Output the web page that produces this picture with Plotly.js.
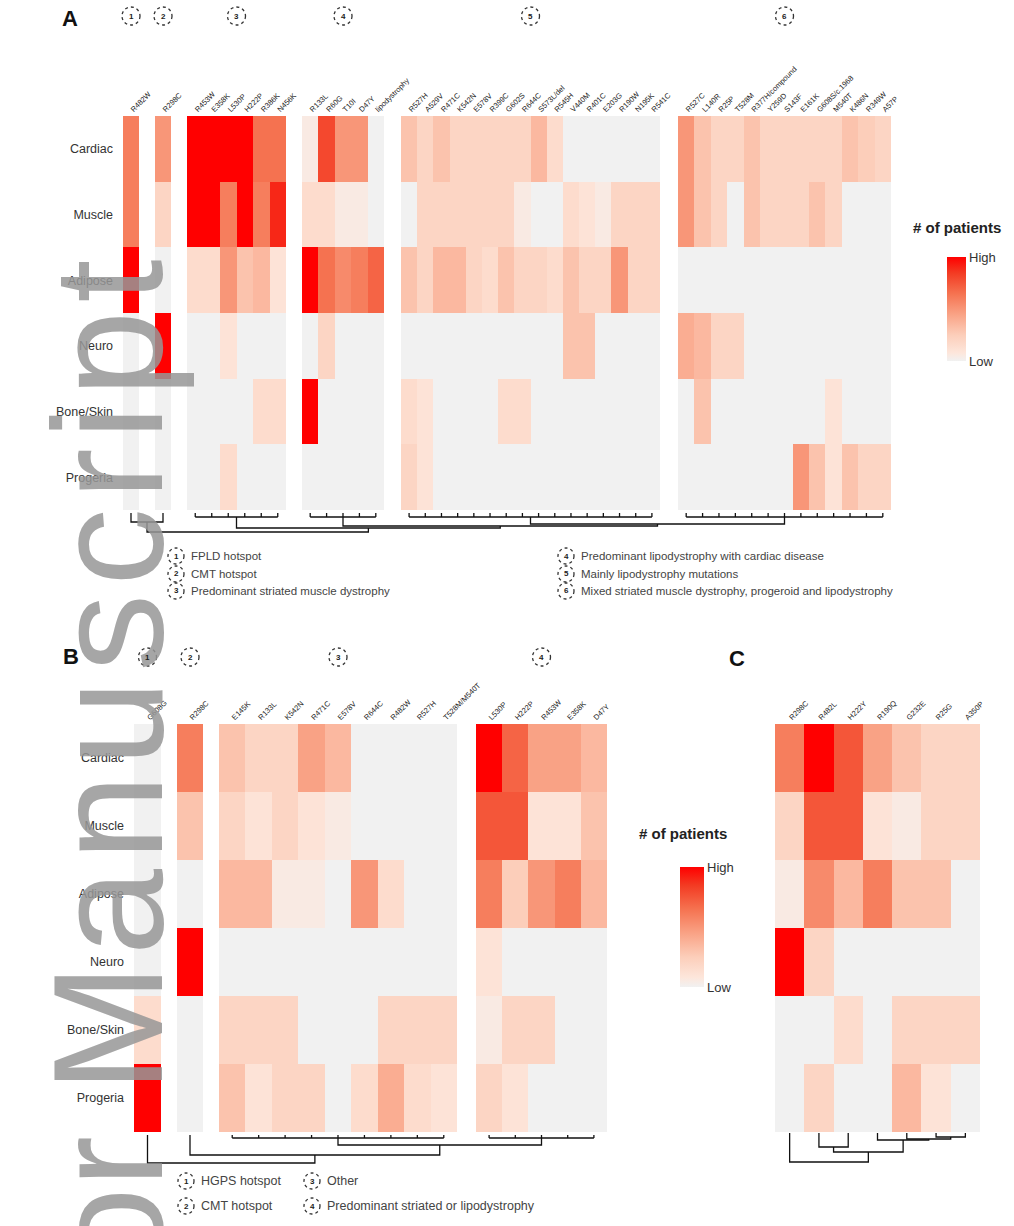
<!DOCTYPE html>
<html><head><meta charset="utf-8">
<script src="https://cdn.plot.ly/plotly-3.0.1.min.js"></script>
<style>html,body{margin:0;padding:0;background:#fff}#chart{width:1014px;height:1226px}</style>
</head><body><div id="chart"></div>
<script>
// ---------------- DATA ----------------
const tissues = ["Cardiac","Muscle","Adipose","Neuro","Bone/Skin","Progeria"];

// Panel A – six mutation clusters (rows follow `tissues`)
const A1_labels = ["R482W"];
const A1_values = [[6],[6],[10],[0],[0],[0]];
const A2_labels = ["R298C"];
const A2_values = [[5],[2],[0],[10],[0],[0]];
const A3_labels = ["R453W","E358K","L530P","H222P","R386K","N456K"];
const A3_values = [
  [10,10,10,10,6.5,6.5],
  [10,10,6,10,6,9],
  [1.5,1.5,5,3,3.5,1],
  [0,0,1,0,0,0],
  [0,0,0,0,1.5,1.5],
  [0,0,1.5,0,0,0]];
const A4_labels = ["R133L","R60G","T10I","D47Y","lipodystrophy"];
const A4_values = [
  [0.5,8,5,5,0],
  [1.5,1.5,0.5,0.5,0],
  [10,6.5,5.5,6,7],
  [0,2,0,0,0],
  [10,0,0,0,0],
  [0,0,0,0,0]];
const A5_labels = ["R527H","A529V","R471C","K542N","E578V","R399C","G602S","R644C","S573L/del","R545H","V440M","R401C","E203G","R190W","N195K","R541C"];
const A5_values = [
  [3,2,3,2,2,2,2,2,3.5,1.5,0,0,0,0,0,0],
  [0,2,2,2,2,2,2,0.5,0,0,1.5,1,0.5,2,2,2],
  [3,2,3.5,3.5,2,1.5,3,2,2,1.5,3,2,2,5,2,2],
  [0,0,0,0,0,0,0,0,0,0,3,3,0,0,0,0],
  [1.5,1,0,0,0,0,1.5,1.5,0,0,0,0,0,0,0,0],
  [2,1,0,0,0,0,0,0,0,0,0,0,0,0,0,0]];
const A6_labels = ["R527C","L140R","R25P","T528M","R377H/compound","Y259D","S143F","E161K","G608S/c.1968","M540T","K486N","R349W","A57P"];
const A6_values = [
  [5,3,2,2,3,2,2,2,2,2,3,2.5,2],
  [5,3,2,0,3,2,2,2,3,2,0,0,0],
  [0,0,0,0,0,0,0,0,0,0,0,0,0],
  [4,3.5,2,2,0,0,0,0,0,0,0,0,0],
  [0,3,0,0,0,0,0,0,0,1,0,0,0],
  [0,0,0,0,0,0,0,5,3,1,3,2,2]];

// Panel B – four clusters
const B1_labels = ["G608G"];
const B1_values = [[0],[0],[0],[0],[1.5],[10]];
const B2_labels = ["R298C"];
const B2_values = [[6],[3],[0],[10],[0],[0]];
const B3_labels = ["E145K","R133L","K542N","R471C","E578V","R644C","R482W","R527H","T528M/M540T"];
const B3_values = [
  [3,2,2,4.5,3.5,0,0,0,0],
  [2,1,2,1,0.5,0,0,0,0],
  [3.5,3.5,0.5,0.5,0,5,1.5,0,0],
  [0,0,0,0,0,0,0,0,0],
  [2,2,2,0,0,0,2,2,2],
  [3,1,2,2,0,1.5,4,1.5,1]];
const B4_labels = ["L530P","H222P","R453W","E358K","D47Y"];
const B4_values = [
  [10,7,4.5,4.5,3.5],
  [7.5,7.5,1,1,3],
  [6,2.5,5,6,3.5],
  [1,0,0,0,0],
  [0.5,2,2,0,0],
  [2,1,0,0,0]];

// Panel C
const C_labels = ["R298C","R482L","H222Y","R190Q","G232E","R25G","A350P"];
const C_values = [
  [6,10,7.5,4.5,3,2,2],
  [2,7.5,7.5,1,0.5,2,2],
  [0.5,5.5,3.5,6,3,3,0],
  [10,2,0,0,0,0,0],
  [0,0,1.5,0,2,2,2],
  [0,2,0,0,3.5,1,0]];

// Cluster legends
const A_legend = ["FPLD hotspot","CMT hotspot","Predominant striated muscle dystrophy",
  "Predominant lipodystrophy with cardiac disease","Mainly lipodystrophy mutations",
  "Mixed striated muscle dystrophy, progeroid and lipodystrophy"];
const B_legend = ["HGPS hotspot","CMT hotspot","Other","Predominant striated or lipodystrophy"];

// Dendrogram linkage (left node, right node, merge depth below heatmap)
const dendA_left = [4,3,2,0,9], dendA_right = [5,6,7,1,8], dendA_depth = [14,16,18,12,22];
const dendB_left = [2,1,0],     dendB_right = [3,4,5],     dendB_depth = [13,23,31];
const dendC_left = [5,4,3,1,10,0], dendC_right = [6,7,8,2,9,11], dendC_depth = [5,7,8,15,20,30];

// ---------------- LAYOUT GEOMETRY ----------------
const W = 1014, H = 1226;
const fx = p => p / W, fy = p => 1 - p / H;
const geoA = {top:116, bottom:510, groups:[[123,139],[155,171],[187,286],[302,384],[401,660],[678,891]]};
const geoB = {top:724, bottom:1132, groups:[[134,161],[177,203],[219,457],[476,607]]};
const geoC = {top:724, bottom:1132, groups:[[775,980]]};

const colorScale = [[0,'#f1f1f1'],[0.08,'#fde6db'],[0.25,'#fcceba'],[0.45,'#f9a285'],[0.65,'#f57250'],[0.85,'#f33a22'],[1,'#ff0000']];
const FONT = 'Liberation Sans, Arial, sans-serif';

const traces = [];
const layout = {
  width: W, height: H, margin:{l:0,r:0,t:0,b:0},
  paper_bgcolor:'#ffffff', plot_bgcolor:'rgba(0,0,0,0)',
  showlegend:false, font:{family:FONT, color:'#222'},
  annotations:[], shapes:[],
  coloraxis:{cmin:0,cmax:10,colorscale:colorScale,
    colorbar:{x:fx(937),xanchor:'left',y:fy(309),yanchor:'middle',len:124,lenmode:'pixels',
      thickness:19,tickvals:[0,10],ticktext:['Low','High'],ticks:'',outlinewidth:0,
      tickfont:{size:13,color:'#333'}}},
  coloraxis2:{cmin:0,cmax:10,colorscale:colorScale,
    colorbar:{x:fx(670),xanchor:'left',y:fy(927),yanchor:'middle',len:140,lenmode:'pixels',
      thickness:24,tickvals:[0,10],ticktext:['Low','High'],ticks:'',outlinewidth:0,
      tickfont:{size:13,color:'#333'}}}
};

// watermark (drawn first, beneath the other annotations)
const sp = '<span style="font-size:100px">\u200a</span>';
layout.annotations.push({xref:'paper', yref:'paper', x:fx(108), y:fy(258),
  text:'Author ' + 'Manuscript'.split('').join(sp), textangle:-90,
  showarrow:false, xanchor:'center', yanchor:'top',
  font:{size:155, color:'rgba(150,150,150,0.85)', family:'Liberation Sans, Arial'}});

let axisCount = 0;
function addPanel(groups, geo, yName, cax, showRows) {
  const ids = [];
  groups.forEach((g, i) => {
    axisCount++;
    const xid = axisCount === 1 ? 'x' : 'x' + axisCount;
    const xkey = axisCount === 1 ? 'xaxis' : 'xaxis' + axisCount;
    const [x0, x1] = geo.groups[i];
    traces.push({type:'heatmap', x:g[0], y:tissues, z:g[1], xaxis:xid, yaxis:yName,
      coloraxis:cax, hoverinfo:'skip', xgap:0, ygap:0});
    layout[xkey] = {domain:[fx(x0), fx(x1)], anchor:yName, side:'top', type:'category',
      tickangle:-45, tickfont:{size:7.5, color:'#222', family:FONT}, ticks:'',
      showgrid:false, zeroline:false, showline:false, automargin:false, fixedrange:true};
    ids.push(xid);
  });
  const ykey = yName === 'y' ? 'yaxis' : 'yaxis' + yName.slice(1);
  layout[ykey] = {domain:[fy(geo.bottom), fy(geo.top)], anchor:ids[0], type:'category',
    autorange:'reversed', showticklabels:showRows, ticks:'', ticklabelstandoff:9,
    tickfont:{size:12.5, color:'#333', family:FONT}, showgrid:false, zeroline:false,
    showline:false, automargin:false, fixedrange:true};
}
addPanel([[A1_labels,A1_values],[A2_labels,A2_values],[A3_labels,A3_values],[A4_labels,A4_values],[A5_labels,A5_values],[A6_labels,A6_values]], geoA, 'y', 'coloraxis', true);
addPanel([[B1_labels,B1_values],[B2_labels,B2_values],[B3_labels,B3_values],[B4_labels,B4_values]], geoB, 'y2', 'coloraxis2', true);
addPanel([[C_labels,C_values]], geoC, 'y3', 'coloraxis2', false);

// overlay axes in pixel units for dendrograms
layout.xaxis12 = {domain:[0,1], range:[0,W], visible:false, anchor:'y4', fixedrange:true};
layout.yaxis4 = {domain:[0,1], range:[H,0], visible:false, anchor:'x12', fixedrange:true};

function colCenters(geo, counts) {
  return geo.groups.map((g, i) => {
    const n = counts[i], w = (g[1] - g[0]) / n;
    return Array.from({length:n}, (_, k) => g[0] + (k + 0.5) * w);
  });
}
function linkage(leafX, leafY, L, R, D, base, X, Y) {
  const nx = leafX.slice(), ny = leafY.slice();
  for (let i = 0; i < L.length; i++) {
    const a = L[i], b = R[i], h = base + D[i];
    X.push(nx[a], nx[a], nx[b], nx[b], null);
    Y.push(ny[a], h, h, ny[b], null);
    nx.push((nx[a] + nx[b]) / 2); ny.push(h);
  }
}
function groupDendro(geo, counts, barOff, L, R, D) {
  const X = [], Y = [];
  const cc = colCenters(geo, counts);
  const leafX = [], leafY = [];
  cc.forEach(cols => {
    const barY = geo.bottom + barOff;
    cols.forEach(c => { X.push(c, c, null); Y.push(geo.bottom + 3, barY, null); });
    if (cols.length > 1) { X.push(cols[0], cols[cols.length - 1], null); Y.push(barY, barY, null); }
    leafX.push((cols[0] + cols[cols.length - 1]) / 2); leafY.push(barY);
  });
  linkage(leafX, leafY, L, R, D, geo.bottom, X, Y);
  traces.push({type:'scatter', mode:'lines', x:X, y:Y, xaxis:'x12', yaxis:'y4',
    line:{color:'#111', width:1.3}, hoverinfo:'skip'});
}
groupDendro(geoA, [A1_labels,A2_labels,A3_labels,A4_labels,A5_labels,A6_labels].map(a => a.length), 7, dendA_left, dendA_right, dendA_depth);
groupDendro(geoB, [B1_labels,B2_labels,B3_labels,B4_labels].map(a => a.length), 6, dendB_left, dendB_right, dendB_depth);
(function () {
  const X = [], Y = [];
  const cols = colCenters(geoC, [C_labels.length])[0];
  linkage(cols, cols.map(() => geoC.bottom + 1), dendC_left, dendC_right, dendC_depth, geoC.bottom, X, Y);
  traces.push({type:'scatter', mode:'lines', x:X, y:Y, xaxis:'x12', yaxis:'y4',
    line:{color:'#111', width:1.3}, hoverinfo:'skip'});
})();

// circled cluster numbers
function circleNum(cx, cy, n, r) {
  layout.shapes.push({type:'circle', xref:'paper', yref:'paper',
    x0:fx(cx - r), x1:fx(cx + r), y0:fy(cy + r), y1:fy(cy - r),
    line:{color:'#333', width:1.3, dash:'dot'}});
  layout.annotations.push({xref:'paper', yref:'paper', x:fx(cx), y:fy(cy), text:'<b>' + n + '</b>',
    showarrow:false, font:{size:8, color:'#222'}, xanchor:'center', yanchor:'middle'});
}
geoA.groups.forEach((g, i) => circleNum((g[0] + g[1]) / 2, 16, i + 1, 9));
geoB.groups.forEach((g, i) => circleNum((g[0] + g[1]) / 2, 657, i + 1, 9));

// cluster legends
function legendItem(cx, cy, n, text, size) {
  circleNum(cx, cy, n, 8);
  layout.annotations.push({xref:'paper', yref:'paper', x:fx(cx + 13), y:fy(cy), text:text,
    showarrow:false, xanchor:'left', yanchor:'middle', font:{size:size, color:'#444'}});
}
[[176,556],[176,574],[176,591],[566,556],[566,574],[566,591]].forEach((p, i) => legendItem(p[0], p[1], i + 1, A_legend[i], 11.5));
[[186,1181],[186,1206],[312,1181],[312,1206]].forEach((p, i) => legendItem(p[0], p[1], i + 1, B_legend[i], 12.5));

// panel letters and colorbar titles
[['A',70,19],['B',71,656],['C',737,659]].forEach(t => layout.annotations.push({xref:'paper', yref:'paper',
  x:fx(t[1]), y:fy(t[2]), text:'<b>' + t[0] + '</b>', showarrow:false, font:{size:22, color:'#111', family:'Liberation Sans, Arial'},
  xanchor:'center', yanchor:'middle'}));
layout.annotations.push({xref:'paper', yref:'paper', x:fx(957), y:fy(228), text:'<b># of patients</b>',
  showarrow:false, font:{size:15, color:'#222'}, xanchor:'center', yanchor:'middle'});
layout.annotations.push({xref:'paper', yref:'paper', x:fx(683), y:fy(833), text:'<b># of patients</b>',
  showarrow:false, font:{size:15, color:'#222'}, xanchor:'center', yanchor:'middle'});

Plotly.newPlot('chart', traces, layout, {staticPlot:true, displayModeBar:false});
</script></body></html>
